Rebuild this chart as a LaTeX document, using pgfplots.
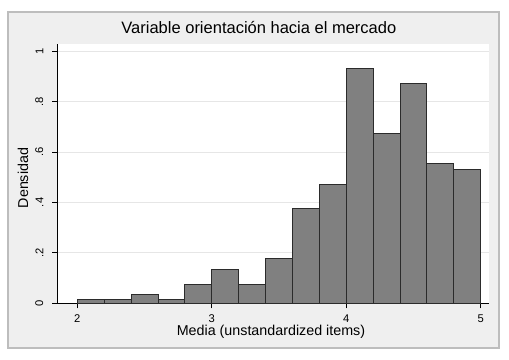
\documentclass[border=0pt]{standalone}
\usepackage{fontspec}
\setmainfont{Liberation Sans}
\usepackage{graphicx}
\usepackage{pgfplots}
\pgfplotsset{compat=1.18}
\definecolor{bg}{HTML}{EFEFEF}
\definecolor{framec}{HTML}{BDBDBD}
\definecolor{barfill}{HTML}{808080}
\definecolor{baredge}{HTML}{2B2B2B}
\definecolor{gridc}{HTML}{E6E6E6}
\begin{document}
\begin{tikzpicture}[x=1pt,y=1pt]
\fill[white] (0,0) rectangle (509,359);
\filldraw[fill=bg, draw=framec, line width=1.5pt] (8,11) rectangle (499,347);
\begin{axis}[
  at={(57pt,55.7pt)}, anchor=south west, scale only axis,
  width=432.3pt, height=259.3pt,
  xmin=1.849, xmax=5.064, ymin=0, ymax=1.028,
  axis background/.style={fill=white},
  axis x line*=bottom, axis y line*=left,
  axis line style={black, line width=0.8pt, -},
  xtick={2,3,4,5}, xticklabels={2,3,4,5},
  ytick={0,0.2,0.4,0.6,0.8,1},
  yticklabels={\rotatebox{90}{0},\rotatebox{90}{.2},\rotatebox{90}{.4},\rotatebox{90}{.6},\rotatebox{90}{.8},\rotatebox{90}{1}},
  tick align=outside, major tick length=5pt,
  tick style={black, line width=0.8pt},
  ymajorgrids, grid style={gridc, line width=0.8pt},
  ticklabel style={font=\fontsize{11.2}{13}\selectfont},
  xticklabel style={anchor=north, inner sep=0pt, yshift=-6pt},
  yticklabel style={anchor=east, inner sep=0pt, xshift=-8.5pt},
  every axis title shift=0pt,
  title={Variable orientación hacia el mercado},
  title style={at={(axis description cs:0.467,1.0424)}, anchor=base, font=\fontsize{16.5}{18}\selectfont, inner sep=0pt},
  xlabel={Media (unstandardized items)},
  xlabel style={at={(axis description cs:0.495,-0.126)}, anchor=base, font=\fontsize{14.3}{16}\selectfont, inner sep=0pt},
  ylabel={Densidad},
  ylabel style={at={(axis description cs:-0.067,0.483)}, anchor=base, font=\fontsize{14.3}{16}\selectfont, inner sep=0pt},
]
\addplot[ybar interval, fill=barfill, draw=baredge, line width=0.9pt] coordinates {
(2.0,0.0150) (2.2,0.0150) (2.4,0.0345) (2.6,0.0150) (2.8,0.075)
(3.0,0.134) (3.2,0.075) (3.4,0.176) (3.6,0.377) (3.8,0.472)
(4.0,0.932) (4.2,0.672) (4.4,0.873) (4.6,0.554) (4.8,0.532) (5.0,0)
};
\end{axis}
\end{tikzpicture}
\end{document}
